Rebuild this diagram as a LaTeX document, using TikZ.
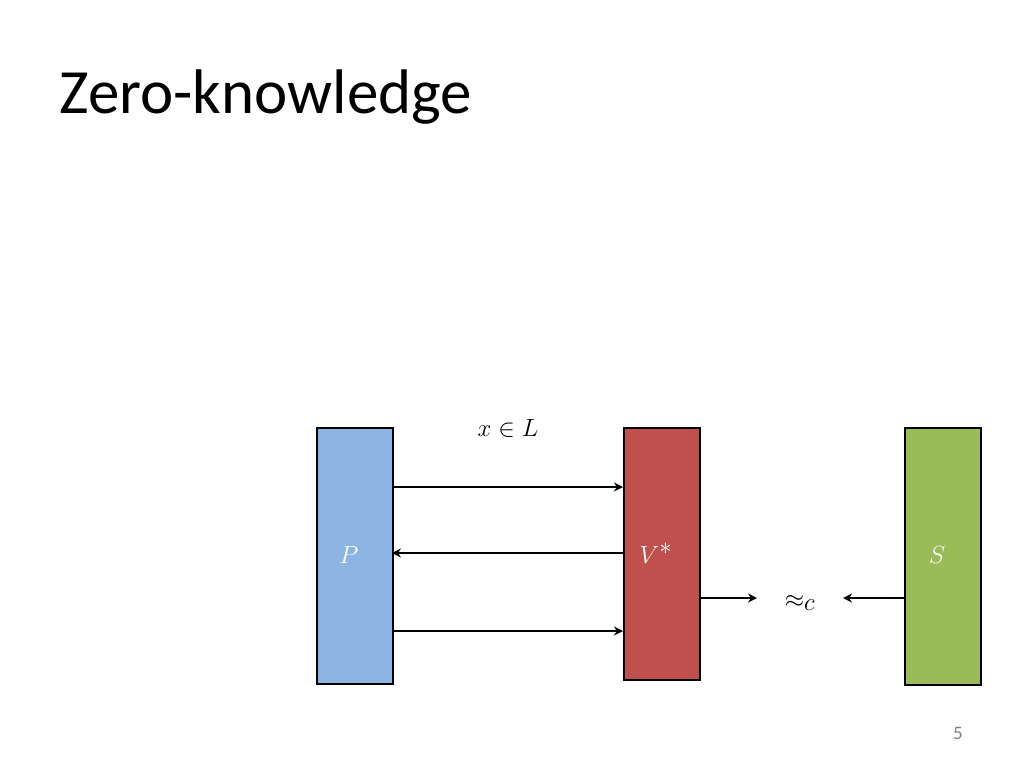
\documentclass[tikz,border=0pt]{standalone}
\usepackage{fontspec}
\setmainfont{Carlito}
\usetikzlibrary{arrows.meta}
\begin{document}
\begin{tikzpicture}[x=1pt,y=-1pt,
  blk/.style={draw=black,line width=1.6pt,minimum width=76pt,anchor=north west,inner sep=0pt},
  arr/.style={-{Stealth[length=9pt,width=9pt]},line width=2.4pt}]
\useasboundingbox (0,0) rectangle (1024,768);
\node[anchor=west,font=\fontsize{63}{66}\selectfont] (title) at (56,97) {Zero-knowledge};
\node[blk,fill={rgb,255:red,141;green,180;blue,226},minimum height=256pt] (P) at (316,427) {};
\node[blk,fill={rgb,255:red,192;green,80;blue,77},minimum height=252pt] (V) at (623,427) {};
\node[blk,fill={rgb,255:red,155;green,187;blue,89},minimum height=257pt] (S) at (904,427) {};
\node[text=white,font=\fontsize{46}{48}\selectfont] (Pl) at (349,555) {$P$};
\node[text=white,font=\fontsize{46}{48}\selectfont] (Vl) at (656,553) {$V^*$};
\node[text=white,font=\fontsize{46}{48}\selectfont] (Sl) at (937,555) {$S$};
\node[font=\fontsize{32}{34}\selectfont] (xl) at (508,428) {$x\in L$};
\node[font=\fontsize{46}{48}\selectfont] (ap) at (800,603) {$\approx_c$};
\node[font=\fontsize{19}{21}\selectfont,text=gray] (pg) at (958,733) {5};
\coordinate (a1) at (392,487); \coordinate (b1) at (623,487);
\coordinate (a2) at (392,553); \coordinate (b2) at (623,553);
\coordinate (a3) at (392,631); \coordinate (b3) at (623,631);
\draw[arr] (a1) -- (b1);
\draw[arr] (b2) -- (a2);
\draw[arr] (a3) -- (b3);
\coordinate (v1) at (700,598); \coordinate (s1) at (904,598);
\coordinate (e1) at (757,598); \coordinate (e2) at (843,598);
\draw[arr] (v1) -- (e1);
\draw[arr] (s1) -- (e2);
\end{tikzpicture}
\end{document}
